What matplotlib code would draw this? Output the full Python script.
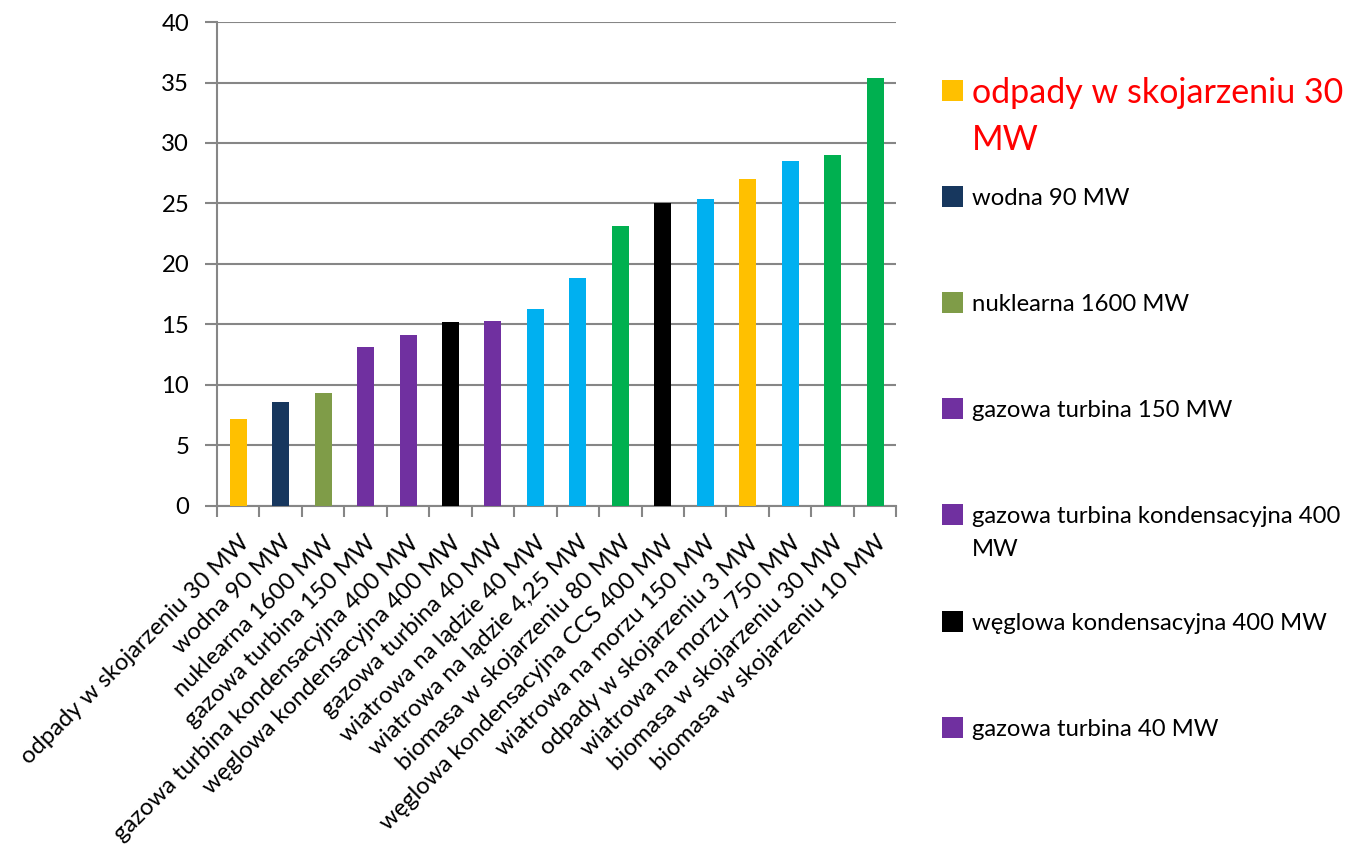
import numpy as np
import matplotlib.pyplot as plt
from matplotlib.patches import Rectangle

plt.rcParams['font.family'] = ['Lato', 'DejaVu Sans']

# levelised cost per technology, sorted ascending
categories = [
    'odpady w skojarzeniu 30 MW',
    'wodna 90 MW',
    'nuklearna 1600 MW',
    'gazowa turbina 150 MW',
    'gazowa turbina kondensacyjna 400 MW',
    'węglowa kondensacyjna 400 MW',
    'gazowa turbina 40 MW',
    'wiatrowa na lądzie 40 MW',
    'wiatrowa na lądzie 4,25 MW',
    'biomasa w skojarzeniu 80 MW',
    'węglowa kondensacyjna CCS 400 MW',
    'wiatrowa na morzu 150 MW',
    'odpady w skojarzeniu 3 MW',
    'wiatrowa na morzu 750 MW',
    'biomasa w skojarzeniu 30 MW',
    'biomasa w skojarzeniu 10 MW',
]
values = [7.2, 8.6, 9.3, 13.1, 14.1, 15.2, 15.3, 16.3, 18.8,
          23.1, 25.0, 25.4, 27.0, 28.5, 29.0, 35.4]
bar_colors = ['#FFC000', '#17375E', '#7F9C48', '#7030A0', '#7030A0',
              '#000000', '#7030A0', '#00B0F0', '#00B0F0', '#00B050',
              '#000000', '#00B0F0', '#FFC000', '#00B0F0', '#00B050',
              '#00B050']

# legend only lists the first seven series
legend_labels = [
    'odpady w skojarzeniu 30\nMW',
    'wodna 90 MW',
    'nuklearna 1600 MW',
    'gazowa turbina 150 MW',
    'gazowa turbina kondensacyjna 400\nMW',
    'węglowa kondensacyjna 400 MW',
    'gazowa turbina 40 MW',
]
legend_colors = bar_colors[:7]

grid_col = '#868686'
fs = 17.2

fig = plt.figure(figsize=(13.56, 8.49), dpi=100)
ax = fig.add_axes([0.160, 0.4045, 0.501, 0.5695])

x = np.arange(len(categories))
ax.bar(x, values, width=0.4, color=bar_colors, zorder=3)

ax.set_xlim(-0.5, len(categories) - 0.5)
ax.set_ylim(0, 40)
ax.set_yticks(np.arange(0, 41, 5))
ax.yaxis.grid(True, color=grid_col, linewidth=1.5, zorder=0)
ax.set_axisbelow(True)

# category boundaries carry the tick marks, labels sit under the bars
ax.set_xticks(np.arange(len(categories) + 1) - 0.5)
ax.set_xticklabels([])
ax.set_xticks(x, minor=True)
ax.set_xticklabels(categories, minor=True, rotation=45, ha='right',
                   va='top', rotation_mode='anchor', fontsize=fs)
ax.tick_params(axis='x', which='major', length=8, width=1.5, color=grid_col)
ax.tick_params(axis='x', which='minor', length=0, pad=19)
ax.tick_params(axis='y', length=9, width=1.5, color=grid_col,
               labelsize=fs, pad=11)

for side in ('top', 'right'):
    ax.spines[side].set_visible(False)
for side in ('left', 'bottom'):
    ax.spines[side].set_color(grid_col)
    ax.spines[side].set_linewidth(1.5)

# hand-built legend with evenly spaced slots, wrapped lines drawn one by one
px_w, px_h = 1 / 1356, 1 / 849
y0 = 1 - 90 * px_h
step = 106.2 * px_h
sw, sh = 21 * px_w, 21 * px_h
for i, (lab, col) in enumerate(zip(legend_labels, legend_colors)):
    yc = y0 - i * step
    fig.patches.append(Rectangle((942 * px_w, yc - sh / 2), sw, sh,
                                 facecolor=col, edgecolor='none',
                                 transform=fig.transFigure, figure=fig))
    if i == 0:
        tcol, tsize, gap = 'red', 24.5, 47 * px_h
    else:
        tcol, tsize, gap = 'black', fs, 33 * px_h
    for k, line in enumerate(lab.split('\n')):
        fig.text(972 * px_w, yc - k * gap, line, color=tcol, fontsize=tsize,
                 va='center_baseline', ha='left')

fig.savefig('out.png', dpi=100)
